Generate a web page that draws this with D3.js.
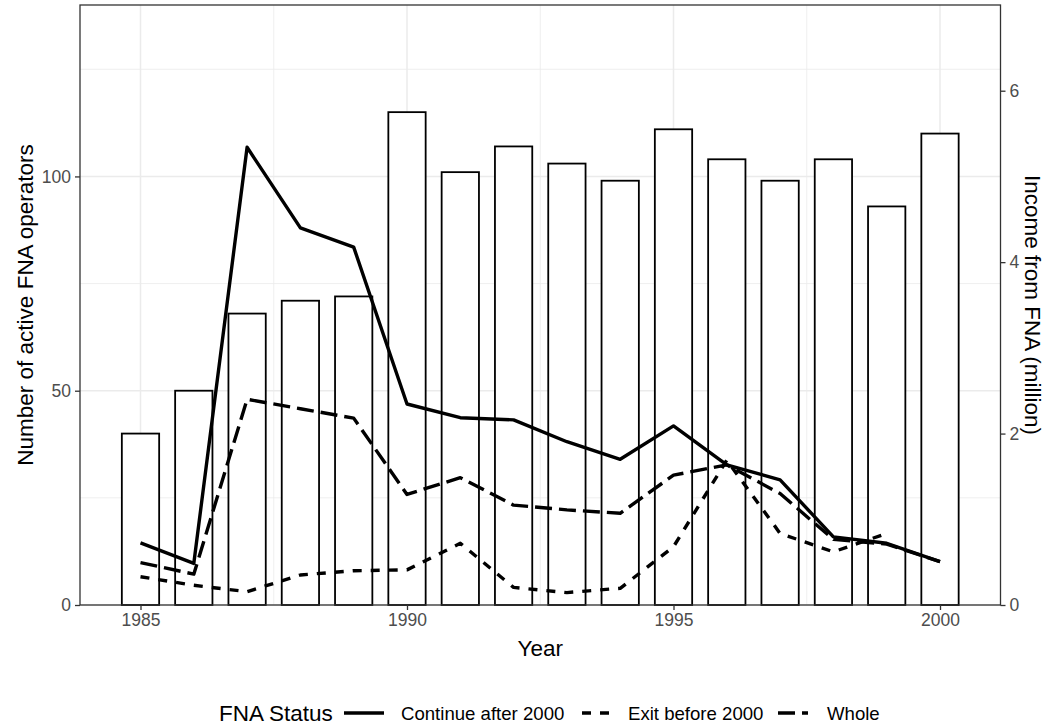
<!DOCTYPE html>
<html>
<head>
<meta charset="utf-8">
<script src="https://cdn.jsdelivr.net/npm/d3@7"></script>
<style>
  body { margin: 0; background: #fff; }
  svg { display: block; font-family: "Liberation Sans", Arial, Helvetica, sans-serif; }
</style>
</head>
<body>
<svg id="chart" width="1048" height="726"></svg>
<script>
// ---- data ----
const years = [1985,1986,1987,1988,1989,1990,1991,1992,1993,1994,1995,1996,1997,1998,1999,2000];
const income = [2.0,2.5,3.4,3.55,3.6,5.75,5.05,5.35,5.15,4.95,5.55,5.2,4.95,5.2,4.65,5.5]; // million
const continueAfter = [14.5,9.7,106.8,88,83.5,46.9,43.7,43.2,38.1,34,41.8,32.7,29.2,15.9,14.4,10.1];
const exitBefore   = [6.6,4.6,3.1,7,8,8.2,14.4,4.1,2.9,3.9,13.6,33.8,16.7,12.4,16.7,null];
const whole        = [9.9,7.2,48,45.8,43.6,25.8,29.7,23.3,22.2,21.4,30.3,32.7,26,15.3,14.2,10.1];
const seriesNames = ["Continue after 2000","Exit before 2000","Whole"];
const xTicks = [1985,1990,1995,2000];
const xMinor = [1987.5,1992.5,1997.5];
const yTicks = [0,50,100];
const yMinor = [25,75,125];
const yRightTicks = [0,2,4,6];
const secFactor = 20; // income (million) * 20 = left-axis units

// ---- layout ----
const svg = d3.select("#chart");
const px0 = 80, px1 = 1000.5, py0 = 5, py1 = 605;
const x = d3.scaleLinear().domain([1983.865, 2001.135]).range([px0, px1]);
const y = d3.scaleLinear().domain([0, 140]).range([py1, py0]);
const yR = d3.scaleLinear().domain([0, 140 / secFactor]).range([py1, py0]);

svg.append("rect").attr("x", px0).attr("y", py0).attr("width", px1 - px0).attr("height", py1 - py0).attr("fill", "#fff");

// gridlines
const grid = svg.append("g");
grid.selectAll(".xmin").data(xMinor).join("line")
  .attr("x1", d => x(d)).attr("x2", d => x(d)).attr("y1", py0).attr("y2", py1)
  .attr("stroke", "#EBEBEB").attr("stroke-width", 0.8);
grid.selectAll(".ymin").data(yMinor).join("line")
  .attr("y1", d => y(d)).attr("y2", d => y(d)).attr("x1", px0).attr("x2", px1)
  .attr("stroke", "#EBEBEB").attr("stroke-width", 0.8);
grid.selectAll(".xmaj").data(xTicks).join("line")
  .attr("x1", d => x(d)).attr("x2", d => x(d)).attr("y1", py0).attr("y2", py1)
  .attr("stroke", "#EBEBEB").attr("stroke-width", 1.5);
grid.selectAll(".ymaj").data(yTicks).join("line")
  .attr("y1", d => y(d)).attr("y2", d => y(d)).attr("x1", px0).attr("x2", px1)
  .attr("stroke", "#EBEBEB").attr("stroke-width", 1.5);

// bars
const barW = x(1985.35) - x(1984.65);
svg.append("g").selectAll("rect").data(years).join("rect")
  .attr("x", (d) => x(d) - barW / 2)
  .attr("width", barW)
  .attr("y", (d, i) => yR(income[i]))
  .attr("height", (d, i) => py1 - yR(income[i]))
  .attr("fill", "#fff").attr("stroke", "#000").attr("stroke-width", 1.8);

// lines
const dashes = ["none", "9 9", "17 7"];
const allSeries = [continueAfter, exitBefore, whole];
const line = d3.line().defined(d => d.v != null).x(d => x(d.yr)).y(d => y(d.v));
allSeries.forEach((s, k) => {
  svg.append("path")
    .datum(years.map((yr, i) => ({yr, v: s[i]})))
    .attr("d", line)
    .attr("fill", "none").attr("stroke", "#000").attr("stroke-width", 3.4)
    .attr("stroke-linejoin", "round").attr("stroke-linecap", "butt")
    .attr("stroke-dasharray", dashes[k]);
});

// panel border
svg.append("rect").attr("x", px0).attr("y", py0).attr("width", px1 - px0).attr("height", py1 - py0)
  .attr("fill", "none").attr("stroke", "#333333").attr("stroke-width", 1.3);

// axes
const tickCol = "#4D4D4D";
const ax = svg.append("g").attr("transform", `translate(0,${py1})`)
  .call(d3.axisBottom(x).tickValues(xTicks).tickFormat(d3.format("d")).tickSize(5).tickPadding(4));
const al = svg.append("g").attr("transform", `translate(${px0},0)`)
  .call(d3.axisLeft(y).tickValues(yTicks).tickFormat(d3.format("d")).tickSize(5).tickPadding(4));
const ar = svg.append("g").attr("transform", `translate(${px1},0)`)
  .call(d3.axisRight(yR).tickValues(yRightTicks).tickFormat(d3.format("d")).tickSize(5).tickPadding(4));
[ax, al, ar].forEach(g => {
  g.attr("font-family", "'Liberation Sans', Arial, sans-serif").attr("font-size", 17.5);
  g.select(".domain").remove();
  g.selectAll(".tick line").attr("stroke", "#333333").attr("stroke-width", 1.3);
  g.selectAll(".tick text").attr("fill", tickCol);
});

// axis titles
svg.append("text").attr("x", (px0 + px1) / 2).attr("y", 656).attr("text-anchor", "middle")
  .attr("font-size", 22.5).text("Year");
svg.append("text").attr("transform", `translate(33,${(py0 + py1) / 2}) rotate(-90)`)
  .attr("text-anchor", "middle").attr("font-size", 22.5).text("Number of active FNA operators");
svg.append("text").attr("transform", `translate(1025,${(py0 + py1) / 2}) rotate(90)`)
  .attr("text-anchor", "middle").attr("font-size", 22.5).text("Income from FNA (million)");

// legend
const ly = 713;
const leg = svg.append("g");
leg.append("text").attr("x", 219).attr("y", ly).attr("dy", "0.35em").attr("font-size", 22.5).text("FNA Status");
const keyX = [344, 582, 778];
const keyW = [40, 27, 30];
const textX = [401, 628, 827];
seriesNames.forEach((nm, k) => {
  leg.append("line").attr("x1", keyX[k]).attr("x2", keyX[k] + keyW[k]).attr("y1", ly).attr("y2", ly)
    .attr("stroke", "#000").attr("stroke-width", 3.4).attr("stroke-dasharray", dashes[k]);
  leg.append("text").attr("x", textX[k]).attr("y", ly).attr("dy", "0.35em").attr("font-size", 18.6).text(nm);
});
</script>
</body>
</html>
